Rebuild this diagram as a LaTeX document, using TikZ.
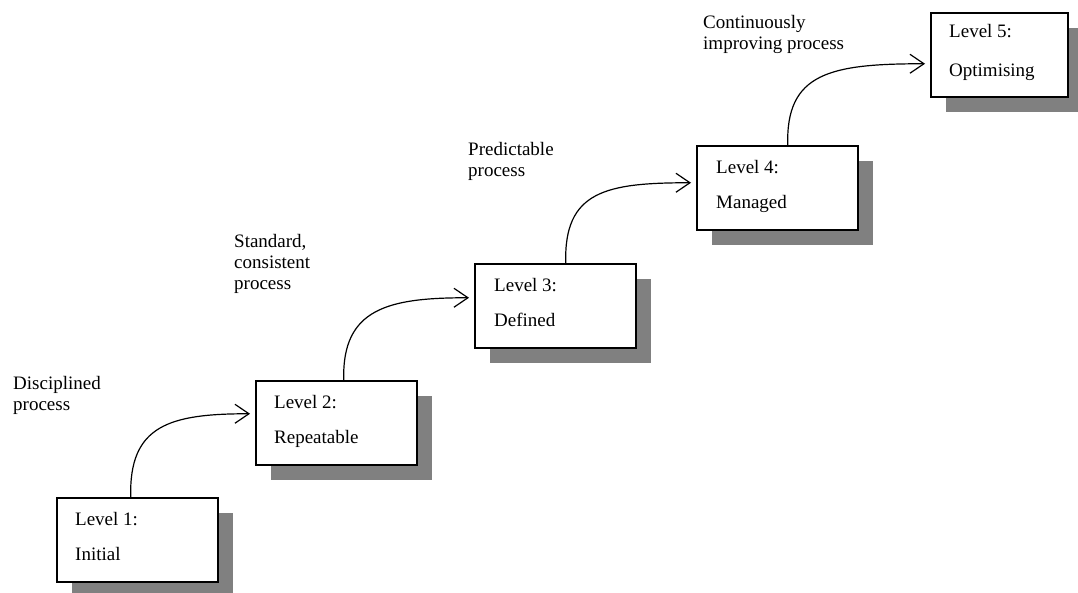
\documentclass[tikz,border=0pt]{standalone}
\usepackage{fontspec}
\setmainfont{Liberation Serif}
\usepackage{xcolor}
\usepackage{tikz}
\usetikzlibrary{positioning,shadows,arrows.meta}

\begin{document}
\begin{tikzpicture}[x=1pt, y=-1pt,
levelbox/.style={rectangle, draw=black, line width=1.5pt, fill=white, anchor=north west, minimum width=161pt, minimum height=84pt, drop shadow={shadow xshift=15pt, shadow yshift=-15pt, fill=black!50, opacity=1}},
leveltext/.style={anchor=north west, inner sep=0pt, align=left, font=\fontsize{19}{35}\selectfont},
steplabel/.style={anchor=north west, inner sep=0pt, align=left, font=\fontsize{19}{21}\selectfont},
stepline/.style={line width=1.2pt, -{Straight Barb[length=14pt, width=19pt, line width=1.2pt]}}]

\useasboundingbox (0,0) rectangle (1078,592);

\node[levelbox] at (56,497) (b1) {};
\node[leveltext] at ([xshift=19pt,yshift=-15pt]b1.north west) (t1) {Level 1:\\Initial};
\node[levelbox] at (255,380) (b2) {};
\node[leveltext] at ([xshift=19pt,yshift=-15pt]b2.north west) (t2) {Level 2:\\Repeatable};
\node[levelbox] at (474,263) (b3) {};
\node[leveltext] at ([xshift=20pt,yshift=-15pt]b3.north west) (t3) {Level 3:\\Defined};
\node[levelbox] at (696,145) (b4) {};
\node[leveltext] at ([xshift=20pt,yshift=-15pt]b4.north west) (t4) {Level 4:\\Managed};
\node[levelbox, minimum width=137pt] at (930,12) (b5) {};
\node[leveltext, font=\fontsize{19}{39}\selectfont] at ([xshift=19pt,yshift=-12pt]b5.north west) (t5) {Level 5:\\Optimising};

\node[steplabel] at (13,376) (p1) {Disciplined\\process};
\node[steplabel] at (234,234) (p2) {Standard,\\consistent\\process};
\node[steplabel] at (468,142) (p3) {Predictable\\process};
\node[steplabel] at (703,15) (p4) {Continuously\\improving process};

\draw[stepline] ([xshift=-6.5pt]b1.north) .. controls +(-2,-72) and +(-80,0) .. ([xshift=-5pt,yshift=9pt]b2.west);
\draw[stepline] ([xshift=7.5pt]b2.north) .. controls +(-2,-72) and +(-80,0) .. ([xshift=-5pt,yshift=8pt]b3.west);
\draw[stepline] ([xshift=10.5pt]b3.north) .. controls +(-2,-72) and +(-85,0) .. ([xshift=-5pt,yshift=5pt]b4.west);
\draw[stepline] ([xshift=10.5pt]b4.north) .. controls +(-2,-72) and +(-95,0) .. ([xshift=-5pt,yshift=-9pt]b5.west);

\end{tikzpicture}
\end{document}
